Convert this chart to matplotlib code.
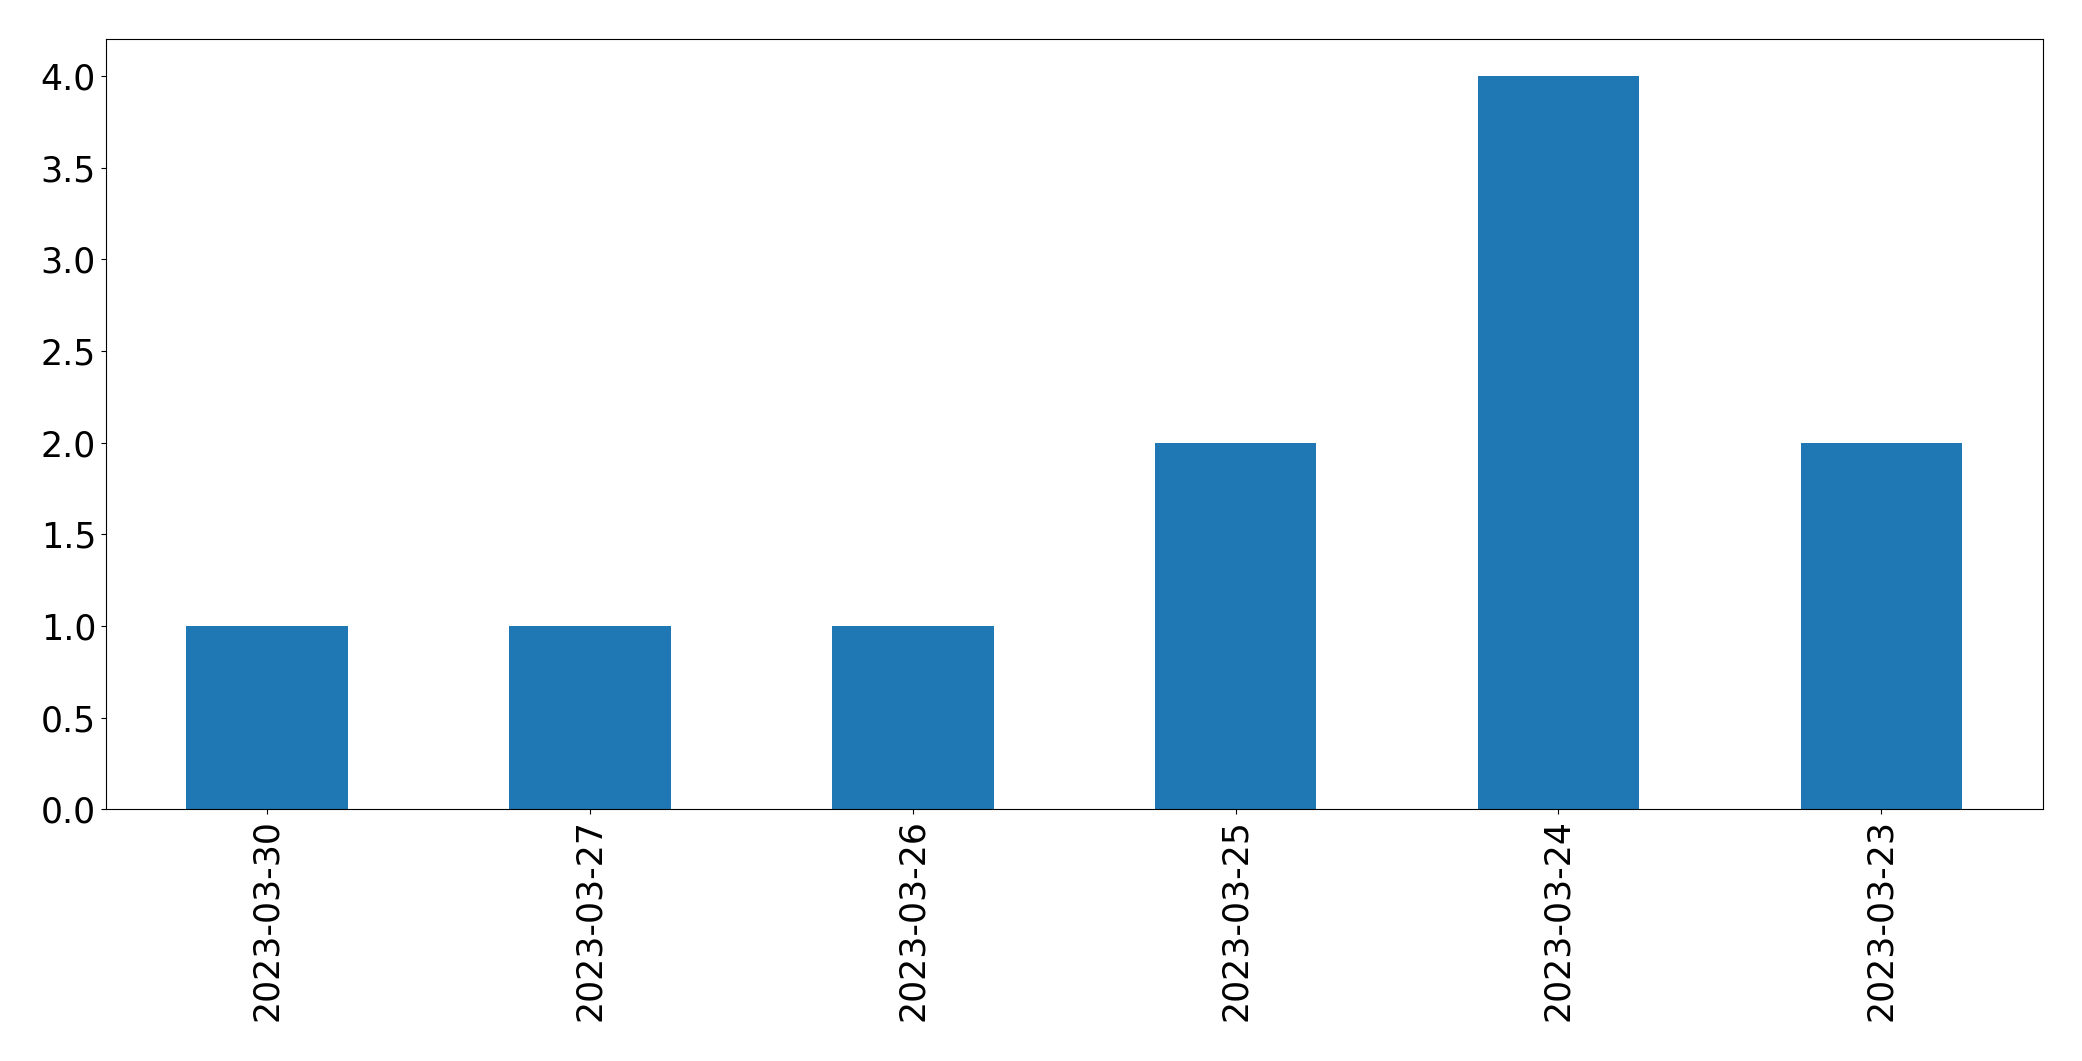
import numpy as np
from matplotlib import pyplot as plt

# daily counts, in the order shown
dates = ['2023-03-30', '2023-03-27', '2023-03-26',
         '2023-03-25', '2023-03-24', '2023-03-23']
counts = [1, 1, 1, 2, 4, 2]

fig = plt.figure(figsize=(20.82, 10.61), dpi=100)
ax = fig.add_axes([0.0508, 0.2372, 0.9303, 0.7257])

x = np.arange(len(dates))
ax.bar(x, counts, width=0.5, color='#1f77b4')
ax.set_xlim(-0.5, len(dates) - 0.5)
ax.set_xticks(x)
ax.set_xticklabels(dates, rotation=90)
ax.tick_params(axis='both', labelsize=25)

fig.savefig('out.png', dpi=100)
